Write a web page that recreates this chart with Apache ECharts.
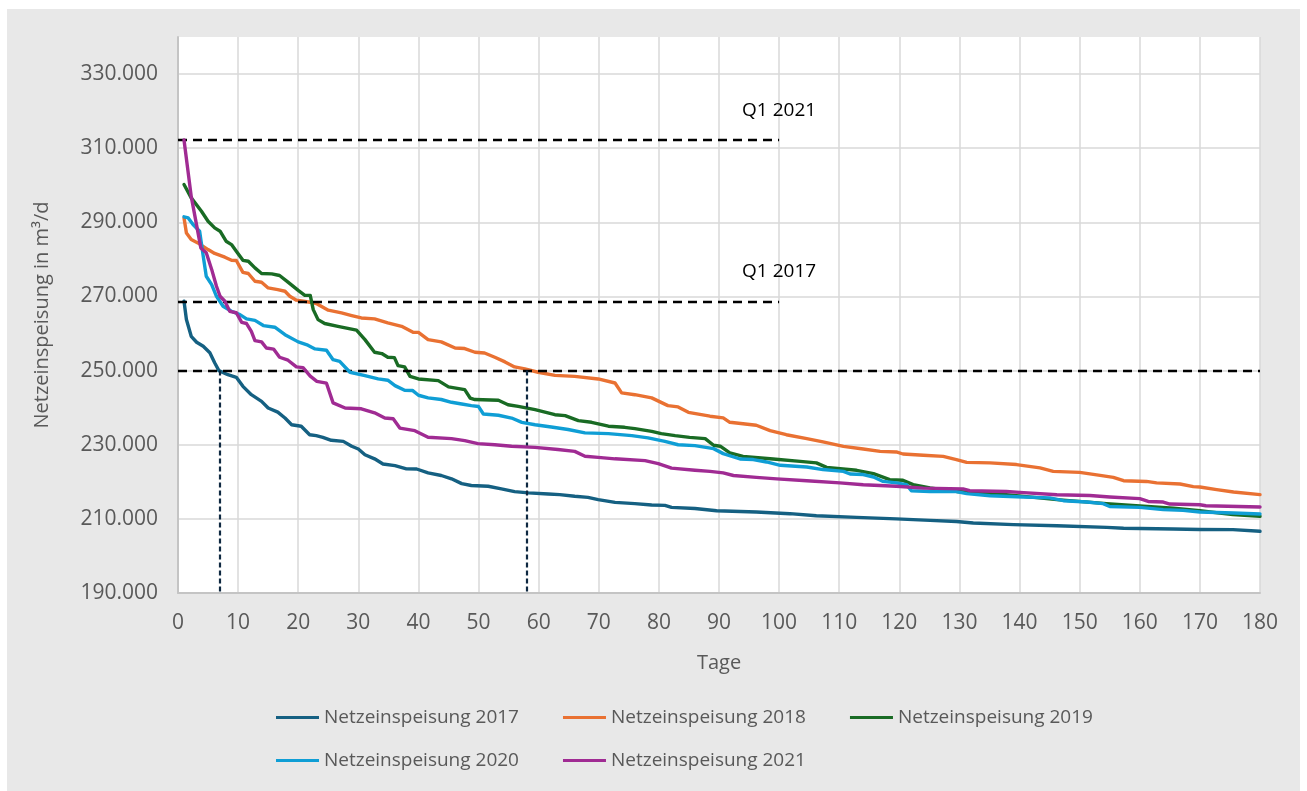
<!DOCTYPE html>
<html>
<head>
<meta charset="utf-8">
<script src="https://cdn.jsdelivr.net/npm/echarts@6/dist/echarts.min.js"></script>
<style>
  html, body { margin: 0; padding: 0; background: #ffffff; }
  #bg { position: absolute; left: 7px; top: 9px; width: 1293px; height: 782px; background: #e8e8e8; }
  #chart { position: absolute; left: 0; top: 0; width: 1307px; height: 791px; }
</style>
</head>
<body>
<div id="bg"></div>
<div id="chart"></div>
<script>
// ---- Data ----
const seriesNames = ['Netzeinspeisung 2017', 'Netzeinspeisung 2018', 'Netzeinspeisung 2019', 'Netzeinspeisung 2020', 'Netzeinspeisung 2021'];
const seriesColors = ['#156082', '#E97132', '#196B24', '#0F9ED5', '#A02B93'];

const days2017 = [1, 1.4, 2.2, 3.1, 4.2, 5.3, 6.1, 6.8, 8.3, 9.7, 10.8, 12.2, 13.9, 15, 16.6, 17.8, 18.9, 20.5, 21.9, 23, 24.1, 25.5, 27.5, 28.9, 30, 31.1, 32.7, 34.1, 36.1, 38, 39.7, 41.6, 43.8, 45.5, 47.2, 48.8, 51.6, 53.8, 56, 58.3, 61.6, 63.5, 66, 68.2, 69.9, 72.7, 76, 78.8, 81, 82.1, 86, 89.6, 96.2, 101.8, 106.2, 112.9, 119.5, 125.1, 129.5, 132.3, 139, 146.2, 154.5, 157.3, 165.6, 170, 175.5, 180];
const vals2017 = [268700, 263800, 259250, 257650, 256550, 254800, 252100, 250000, 248900, 248200, 245750, 243500, 241700, 239900, 238800, 237200, 235400, 235000, 232700, 232450, 232000, 231200, 230900, 229600, 228850, 227300, 226200, 224800, 224350, 223500, 223450, 222400, 221700, 220800, 219500, 219000, 218800, 218100, 217350, 217000, 216700, 216550, 216100, 215800, 215200, 214450, 214100, 213750, 213650, 213100, 212800, 212200, 211850, 211400, 210850, 210400, 210000, 209600, 209300, 208900, 208450, 208150, 207700, 207450, 207250, 207150, 207100, 206650];

const days2018 = [1, 1.4, 2.2, 3.3, 5, 6.1, 7.8, 8.9, 9.7, 10.8, 11.7, 12.8, 13.9, 15, 16.6, 17.8, 18.6, 19.7, 22, 23, 25, 27.2, 28.9, 30.5, 32.7, 34.9, 37.2, 39.1, 40, 41.6, 43.8, 46.1, 47.7, 49.4, 51, 52.7, 54.4, 56, 57.7, 59.9, 62.7, 66, 69.9, 72.7, 73.8, 76, 78.8, 81.5, 83.2, 84.9, 88.5, 90.7, 91.8, 96.2, 98.5, 101.2, 104.6, 107.3, 110.7, 114, 116.8, 119.5, 120.6, 124, 127.3, 129.5, 131.2, 135.1, 139.5, 143.4, 145.6, 150, 153.4, 155.6, 157.3, 161.1, 162.8, 166.7, 168.9, 170, 172.8, 175.6, 180];
const vals2018 = [291200, 287150, 285350, 284450, 282650, 281600, 280600, 279750, 279700, 276500, 276200, 274100, 273850, 272300, 271850, 271400, 270050, 269000, 268450, 268100, 266300, 265550, 264850, 264200, 263950, 262850, 261950, 260350, 260300, 258350, 257750, 256100, 255950, 254950, 254750, 253600, 252350, 251000, 250450, 249550, 248700, 248450, 247750, 246650, 244000, 243500, 242650, 240550, 240200, 238750, 237700, 237250, 236050, 235250, 233800, 232700, 231650, 230750, 229550, 228850, 228200, 228050, 227500, 227150, 226850, 226000, 225250, 225100, 224650, 223750, 222800, 222550, 221750, 221200, 220300, 220100, 219700, 219400, 218700, 218600, 217900, 217250, 216550];

const days2019 = [1, 2.2, 3.9, 5, 6.1, 7, 8, 8.9, 9.7, 10.8, 11.7, 12.8, 13.9, 15.6, 16.9, 18.3, 20, 21.1, 22, 22.5, 23.3, 24.4, 26.6, 29.7, 31.1, 32.7, 33.9, 34.9, 36, 36.6, 37.7, 38.6, 40, 43.3, 45, 47.7, 48.6, 49.4, 53.3, 54.9, 56.6, 59.4, 62.7, 64.4, 66.6, 68.8, 71.6, 74.3, 76, 78.8, 80.4, 82.7, 85.1, 87.7, 89.1, 90.2, 91.8, 94, 99, 103.5, 106.2, 107.9, 112.9, 115.7, 118.4, 120.6, 122.3, 125.1, 129.5, 137.8, 146.2, 154.5, 160, 165.6, 170, 175.5, 180];
const vals2019 = [300200, 296600, 293000, 290300, 288500, 287600, 284900, 284000, 282200, 279750, 279500, 277700, 276200, 276100, 275650, 273850, 271650, 270300, 270300, 266450, 263750, 262700, 261950, 260900, 258350, 254950, 254600, 253600, 253500, 251350, 251000, 248450, 247750, 247300, 245600, 244850, 242600, 242200, 242000, 240800, 240350, 239450, 238100, 237850, 236500, 236050, 235000, 234700, 234350, 233600, 233000, 232450, 232000, 231650, 229850, 229600, 227800, 226850, 226150, 225500, 225100, 223900, 223100, 222200, 220600, 220400, 219250, 218350, 217400, 216550, 215200, 214100, 213500, 212900, 212200, 211150, 210700];

const days2020 = [1, 1.7, 2.5, 3.6, 4.2, 4.7, 5.6, 6.4, 7.5, 8.9, 10.3, 11.4, 12.8, 14.2, 16.1, 17.8, 20, 21.6, 22.8, 24.7, 25.8, 26.9, 28.6, 31.1, 33.3, 34.9, 36.1, 37.7, 39, 40, 41.6, 43.8, 45.5, 47.2, 48.8, 50, 50.8, 53.3, 55.5, 57.2, 59.4, 62.1, 64.9, 67.7, 71.6, 75.5, 78.2, 81, 83.2, 86, 89.1, 90.7, 93.5, 95.7, 97.9, 100.2, 104.6, 107.3, 110.7, 111.8, 114, 115.7, 117.3, 119.5, 121.2, 122, 125.1, 129.5, 131.2, 135.1, 140.6, 145, 147.3, 151.2, 153.9, 155, 160, 163.9, 167.2, 170, 175.6, 180];
const vals2020 = [291500, 291200, 289400, 287600, 280850, 275450, 273200, 270050, 267350, 266000, 265100, 263950, 263550, 262150, 261700, 259700, 257750, 256850, 255850, 255500, 252950, 252500, 249550, 248650, 247750, 247400, 245950, 244700, 244650, 243350, 242650, 242200, 241450, 241000, 240550, 240300, 238300, 237950, 237200, 236050, 235400, 234800, 234100, 233200, 233000, 232450, 231850, 230900, 230000, 229750, 228950, 227600, 226150, 226000, 225350, 224450, 224000, 223300, 222800, 222100, 221950, 221300, 220100, 219700, 219250, 217600, 217400, 217350, 216800, 216250, 215900, 215650, 214900, 214550, 214100, 213350, 213100, 212500, 212300, 211850, 211600, 211300];

const days2021 = [1, 2.2, 3.8, 4.7, 5.6, 6.4, 7, 7.8, 8.6, 9.7, 10.6, 11.4, 12.2, 12.8, 13.9, 14.7, 15.9, 16.9, 18.3, 19.7, 20.8, 22, 23.1, 24.7, 25.8, 27.8, 30.5, 32.7, 34.4, 35.8, 36.9, 39.4, 41.6, 45.5, 47.7, 49.9, 52.7, 55.5, 59.4, 63.2, 66, 67.7, 69.9, 72.7, 77.7, 79.9, 82.1, 86, 88.5, 90.7, 92.4, 96.2, 99.6, 104.6, 110.1, 114, 119.5, 124, 130.6, 131.7, 137.8, 140, 146.2, 151.7, 155, 160, 161.4, 163.9, 165, 170, 171, 180];
const vals2021 = [312200, 297000, 283100, 281800, 277300, 272750, 270050, 268700, 266000, 265600, 263000, 262700, 260600, 258100, 257750, 256100, 255800, 253600, 252800, 251000, 250800, 248500, 247100, 246600, 241300, 239900, 239700, 238600, 237200, 237000, 234500, 233800, 232000, 231650, 231100, 230300, 230000, 229600, 229300, 228700, 228200, 226900, 226600, 226200, 225700, 224900, 223700, 223100, 222800, 222400, 221700, 221200, 220800, 220300, 219700, 219200, 218800, 218300, 218100, 217600, 217400, 217150, 216500, 216300, 215900, 215450, 214700, 214550, 214000, 213800, 213550, 213200];

// Reference lines
const q1_2021 = 312200;
const q1_2017 = 268700;
const level250 = 250000;
const refLineEndDay = 100;
const crossDay2017 = 7;
const crossDay2018 = 58;

// Axis
const xMin = 0, xMax = 180, xStep = 10;
const yMin = 190000, yMax = 340000, yStep = 20000;

const allDays = [days2017, days2018, days2019, days2020, days2021];
const allVals = [vals2017, vals2018, vals2019, vals2020, vals2021];

function zip(d, v) { return d.map((x, i) => [x, v[i]]); }
function fmtDE(v) {
  const s = Math.round(v).toString();
  return s.replace(/\B(?=(\d{3})+(?!\d))/g, '.');
}

const FONT = 'Open Sans';
const GREY_TXT = '#595959';

const series = seriesNames.map((name, i) => ({
  name: name,
  type: 'line',
  data: zip(allDays[i], allVals[i]),
  showSymbol: false,
  symbol: 'none',
  smooth: false,
  lineStyle: { color: seriesColors[i], width: 3.4, cap: 'round', join: 'round' },
  itemStyle: { color: seriesColors[i] },
  emphasis: { disabled: true },
  animation: false,
  z: 2 + i
}));

const dashBlack = { color: '#000000', width: 2.4, type: [9, 6] };
const dashNavy = { color: '#0E2841', width: 2.2, type: [5, 3] };

series.push({
  name: 'refs',
  type: 'line',
  data: [],
  z: 10,
  animation: false,
  markLine: {
    silent: true,
    symbol: ['none', 'none'],
    animation: false,
    label: { show: false },
    data: [
      [{ coord: [xMin, q1_2021], lineStyle: dashBlack }, { coord: [refLineEndDay, q1_2021] }],
      [{ coord: [xMin, q1_2017], lineStyle: dashBlack }, { coord: [refLineEndDay, q1_2017] }],
      [{ coord: [xMin, level250], lineStyle: dashBlack }, { coord: [xMax, level250] }],
      [{ coord: [crossDay2017, level250], lineStyle: dashNavy }, { coord: [crossDay2017, yMin] }],
      [{ coord: [crossDay2018, level250], lineStyle: dashNavy }, { coord: [crossDay2018, yMin] }]
    ]
  },
  markPoint: {
    silent: true,
    animation: false,
    symbol: 'circle',
    symbolSize: 0,
    label: {
      show: true,
      position: 'top',
      distance: 20,
      color: '#000000',
      fontFamily: FONT,
      fontSize: 19
    },
    data: [
      { coord: [refLineEndDay, q1_2021], value: 'Q1 2021', label: { formatter: 'Q1 2021' } },
      { coord: [refLineEndDay, q1_2017], value: 'Q1 2017', label: { formatter: 'Q1 2017' } }
    ]
  }
});

const legendCommon = {
  orient: 'horizontal',
  padding: 0,
  itemWidth: 43,
  itemHeight: 3,
  itemGap: 44,
  icon: 'rect',
  selectedMode: false,
  textStyle: { color: GREY_TXT, fontFamily: FONT, fontSize: 19 }
};

const option = {
  animation: false,
  textStyle: { fontFamily: FONT },
  grid: {
    left: 178, right: 47, top: 37, bottom: 198,
    show: true, backgroundColor: '#ffffff', borderWidth: 0
  },
  legend: [
    Object.assign({}, legendCommon, { left: 276, top: 708, data: seriesNames.slice(0, 3) }),
    Object.assign({}, legendCommon, { left: 276, top: 751, data: seriesNames.slice(3) })
  ],
  xAxis: {
    type: 'value',
    min: xMin, max: xMax, interval: xStep,
    name: 'Tage',
    nameLocation: 'middle',
    nameGap: 60,
    nameTextStyle: { color: GREY_TXT, fontFamily: FONT, fontSize: 20 },
    axisLine: { show: true, lineStyle: { color: '#c4c4c4', width: 2 } },
    axisTick: { show: false },
    axisLabel: { color: GREY_TXT, fontFamily: FONT, fontSize: 21, margin: 20 },
    splitLine: { show: true, showMinLine: false, lineStyle: { color: '#d9d9d9', width: 1.5 } }
  },
  yAxis: {
    type: 'value',
    min: yMin, max: yMax, interval: yStep,
    name: 'Netzeinspeisung in m³/d',
    nameLocation: 'middle',
    nameGap: 126,
    nameTextStyle: { color: GREY_TXT, fontFamily: FONT, fontSize: 20 },
    axisLine: { show: true, lineStyle: { color: '#c4c4c4', width: 2 } },
    axisTick: { show: false },
    axisLabel: {
      color: GREY_TXT, fontFamily: FONT, fontSize: 21, margin: 20,
      showMaxLabel: false,
      formatter: (v) => fmtDE(v)
    },
    splitLine: { show: true, showMinLine: false, showMaxLine: false, lineStyle: { color: '#d9d9d9', width: 1.5 } }
  },
  series: series
};

const chart = echarts.init(document.getElementById('chart'), null, { renderer: 'canvas' });
chart.setOption(option);
</script>
</body>
</html>
